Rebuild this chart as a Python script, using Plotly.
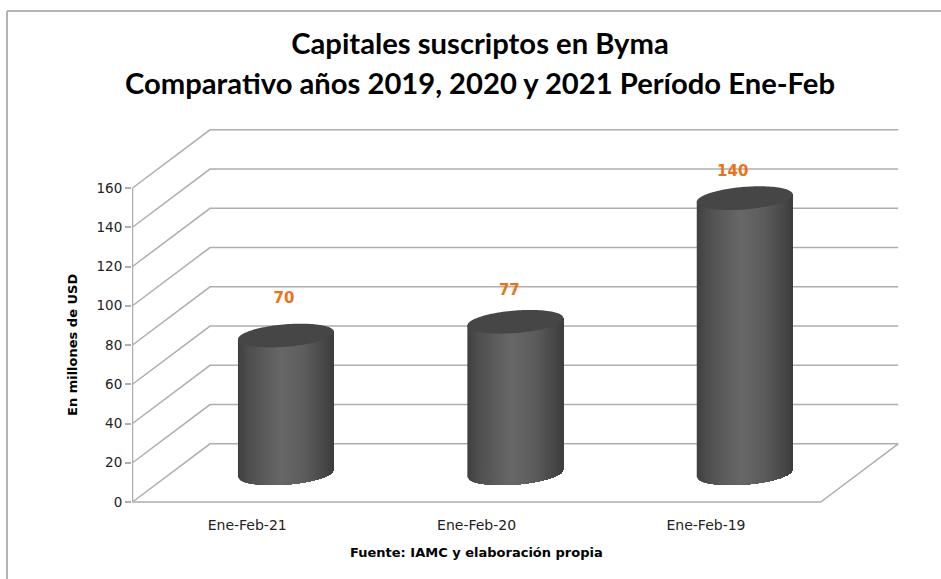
import numpy as np
import plotly.graph_objects as go

# ---- data ----
CATEGORIES = ["Ene-Feb-21", "Ene-Feb-20", "Ene-Feb-19"]
VALUES = [70, 77, 140]
Y_TICKS = [0, 20, 40, 60, 80, 100, 120, 140, 160]
TITLE_LINES = ["Capitales suscriptos en Byma", "Comparativo años 2019, 2020 y 2021 Período Ene-Feb"]
Y_TITLE = "En millones de USD"
SOURCE = "Fuente: IAMC y elaboración propia"

# ---- layout constants (pixels of the 941x579 page) ----
W, H = 941, 579
ML, MR, MT, MB = 132, 42, 128, 75
PX_X = 229.4      # px per category
PX_Y = 1.9625     # px per value unit
LEFT_X, ZERO_Y = 132.5, 502.0

x_lo = -0.5 - (LEFT_X - ML) / PX_X
x_hi = -0.5 + (W - MR - LEFT_X) / PX_X
y_lo = -(H - MB - ZERO_Y) / PX_Y
y_hi = (ZERO_Y - MT) / PX_Y

DEPTH_X = 77.5 / PX_X
DEPTH_Y = 58.2 / PX_Y
RADIUS = 48 / PX_X
ELL_A = 3.7 / PX_Y      # tilt of the cap
ELL_B = 11.3 / PX_Y     # half height of the cap
BASE_SHIFT = 0.3 / PX_Y
N_STRIPS = 48
GRID = "#aeaeae"

LABEL_DX = [-2 / PX_X, -6 / PX_X, -12 / PX_X]
LABEL_DY = [33.5, 30.5, 28.0]

STOPS_U = [-1.0, -0.75, -0.1, 0.4, 0.85, 1.0]
STOPS_G = [0x40, 0x50, 0x68, 0x5c, 0x46, 0x3c]

fig = go.Figure()

# walls and floor
gx, gy = [], []
x_front_l, x_front_r = -0.5, 2.5
for v in Y_TICKS:
    gx += [x_front_l, x_front_l + DEPTH_X, x_front_r + DEPTH_X, None]
    gy += [v, v + DEPTH_Y, v + DEPTH_Y, None]
gx += [x_front_l, x_front_r, x_front_r + DEPTH_X, None]
gy += [0, 0, DEPTH_Y, None]
gx += [x_front_l, x_front_l]
gy += [0, Y_TICKS[-1]]
fig.add_trace(go.Scatter(x=gx, y=gy, mode="lines", line=dict(color=GRID, width=1.5),
                         hoverinfo="skip", showlegend=False))

# cylinder bodies: each shade is painted from its left edge to the right side,
# and the next shade paints over it, so that no seams show
edges = np.linspace(-1, 1, N_STRIPS + 1)
for i in range(N_STRIPS):
    u = np.linspace(edges[i], 1, max(N_STRIPS - i + 1, 2))
    mid = (edges[i] + edges[i + 1]) / 2
    g = int(np.interp(mid, STOPS_U, STOPS_G))
    xs, ys = [], []
    for c, val in enumerate(VALUES):
        cx = c + DEPTH_X / 2
        base = DEPTH_Y / 2 - BASE_SHIFT
        top = DEPTH_Y / 2 + val
        low = base + ELL_A * u - ELL_B * np.sqrt(np.clip(1 - u * u, 0, 1))
        up = top + ELL_A * u
        xs += list(cx + RADIUS * u) + list(cx + RADIUS * u[::-1]) + [None]
        ys += list(low) + list(up[::-1]) + [None]
    fig.add_trace(go.Scatter(x=xs, y=ys, mode="none", fill="toself",
                             fillcolor=f"rgb({g},{g},{g})", hoverinfo="skip",
                             showlegend=False))

# cylinder caps
t = np.linspace(0, 2 * np.pi, 121)
capx, capy = [], []
for c, val in enumerate(VALUES):
    cx = c + DEPTH_X / 2
    top = DEPTH_Y / 2 + val
    capx += list(cx + RADIUS * np.cos(t)) + [None]
    capy += list(top + ELL_A * np.cos(t) + ELL_B * np.sin(t)) + [None]
fig.add_trace(go.Scatter(x=capx, y=capy, mode="none", fill="toself", fillcolor="#464646",
                         hoverinfo="skip", showlegend=False))

# value labels
fig.add_trace(go.Scatter(
    x=[i + DEPTH_X / 2 + LABEL_DX[i] for i in range(len(VALUES))],
    y=[v + LABEL_DY[i] for i, v in enumerate(VALUES)],
    mode="text", text=[str(v) for v in VALUES],
    textfont=dict(family="DejaVu Sans", size=15, color="#EB7317", weight="bold"),
    hovertext=CATEGORIES, hoverinfo="text", showlegend=False))

# frame of the picture
frame_x0 = (7 - ML) / (W - ML - MR)
frame_y1 = 1 + (MT - 11) / (H - MT - MB)
line = dict(color="#b4b4b4", width=2)
shapes = [
    dict(type="line", xref="paper", yref="paper", x0=frame_x0, x1=(W - ML) / (W - ML - MR),
         y0=frame_y1, y1=frame_y1, line=line),
    dict(type="line", xref="paper", yref="paper", x0=frame_x0, x1=frame_x0,
         y0=-MB / (H - MT - MB), y1=frame_y1, line=line),
]

annotations = [
    dict(text=f"<b>{Y_TITLE}</b>", xref="paper", yref="paper", textangle=-90,
         x=(72 - ML) / (W - ML - MR), y=1 - (345 - MT) / (H - MT - MB), showarrow=False,
         xanchor="center", yanchor="middle",
         font=dict(family="DejaVu Sans", size=13, color="black")),
    dict(text=f"<b>{SOURCE}</b>", xref="paper", yref="paper",
         x=(476 - ML) / (W - ML - MR), y=1 - (552 - MT) / (H - MT - MB), showarrow=False,
         xanchor="center", yanchor="middle",
         font=dict(family="DejaVu Sans", size=13, color="black")),
]

fig.update_layout(
    width=W, height=H, autosize=False,
    margin=dict(l=ML, r=MR, t=MT, b=MB, pad=0),
    paper_bgcolor="white", plot_bgcolor="white",
    showlegend=False, shapes=shapes, annotations=annotations,
    title=dict(
        text="<br>".join(f'<span style="font-size:29.2px"><b>{s}</b></span>' for s in TITLE_LINES),
        font=dict(family="Lato", size=30.8, color="black"),
        x=480 / W, xanchor="center", y=1 - 54 / H, yanchor="top", yref="container"),
    xaxis=dict(range=[x_lo, x_hi], tickmode="array", tickvals=list(range(len(CATEGORIES))),
               ticktext=CATEGORIES, showgrid=False, zeroline=False, showline=False,
               ticks="outside", ticklen=8, tickcolor="rgba(0,0,0,0)",
               tickfont=dict(family="DejaVu Sans", size=14, color="#222")),
    yaxis=dict(range=[y_lo, y_hi], tickmode="array", tickvals=Y_TICKS,
               showgrid=False, zeroline=False, showline=False,
               ticks="outside", ticklen=6, tickcolor=GRID, tickwidth=1.5,
               tickfont=dict(family="DejaVu Sans", size=13.5, color="#222")),
)

fig.write_html("out.html", post_script="document.body.style.margin='0';",
               config={"displayModeBar": False})
